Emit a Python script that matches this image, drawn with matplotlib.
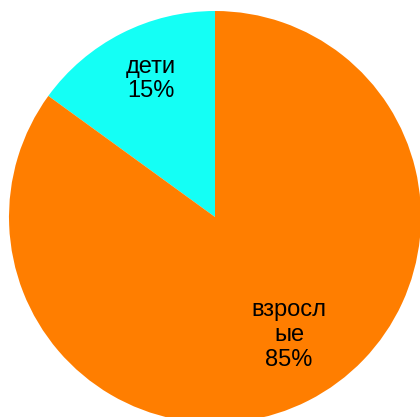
import matplotlib.pyplot as plt

labels = ['дети', 'взросл\nые']
shares = [15, 85]
colors = ['#14fff5', '#ff7e00']

plt.rcParams['font.family'] = ['Liberation Sans', 'DejaVu Sans']

fig = plt.figure(figsize=(4.2, 4.17), dpi=100)
ax = fig.add_axes([0, 0, 1, 1])

# pie in pixel-like units: centre at (215, 200), radius 206
ax.pie(shares, colors=colors, startangle=90, counterclock=True,
       center=(215, 200), radius=206,
       wedgeprops={'linewidth': 0})
ax.set_xlim(0, 420)
ax.set_ylim(0, 417)
ax.axis('off')

label_pos = [(151, 338), (289, 82)]
for name, val, (x, y) in zip(labels, shares, label_pos):
    ax.text(x, y, f'{name}\n{val}%', ha='center', va='center',
            fontsize=17, linespacing=1.15, color='black')

fig.savefig('out.png', dpi=100, facecolor='white')
